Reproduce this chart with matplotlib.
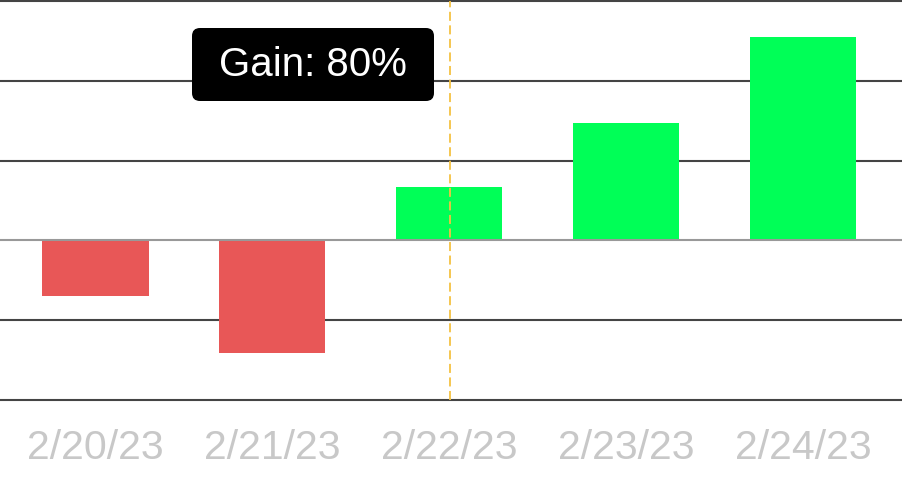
import numpy as np
import matplotlib.pyplot as plt
from matplotlib.patches import FancyBboxPatch
from matplotlib.transforms import IdentityTransform

dates = ['2/20/23', '2/21/23', '2/22/23', '2/23/23', '2/24/23']
gains = [-83, -170, 80, 177, 306]
grid_vals = [-240, -120, 120, 240, 360]
hover_idx = 2

plt.rcParams['font.family'] = ['Liberation Sans', 'DejaVu Sans']

fig = plt.figure(figsize=(9.02, 4.78), dpi=100)
ax = fig.add_axes([0, 78 / 478, 1, 399 / 478])

x = np.arange(len(dates))
cores = ['#00FF57' if g >= 0 else '#E85757' for g in gains]
ax.bar(x, gains, width=0.6, color=cores, zorder=2)

for g in grid_vals:
    ax.axhline(g, color='#444444', linewidth=1.5, zorder=1, clip_on=False)
ax.axhline(0, color='#999999', linewidth=1.5, zorder=3)

linha = ax.axvline(x[hover_idx] + 0.005, color='#F5C242', linewidth=1.3, zorder=4)
linha.set_dashes((5, 2.5))

ax.set_xlim(-0.54, 4.56)
ax.set_ylim(-240, 360)
ax.set_yticks([])
ax.set_xticks(x)
ax.set_xticklabels(dates, fontsize=29.5, color='#C8C8C8')
ax.tick_params(axis='x', length=0, pad=21)
for s in ax.spines.values():
    s.set_visible(False)

# tooltip
caixa = FancyBboxPatch((192, 377), 242, 73, boxstyle='round,pad=0,rounding_size=8',
                       transform=IdentityTransform(), facecolor='black', edgecolor='none',
                       zorder=10)
fig.add_artist(caixa)
fig.text(313 / 902, 1 - 64.5 / 478, f'Gain: {gains[hover_idx]}%', color='white',
         fontsize=29, ha='center', va='center', zorder=11)

fig.savefig('out.png', dpi=100)
